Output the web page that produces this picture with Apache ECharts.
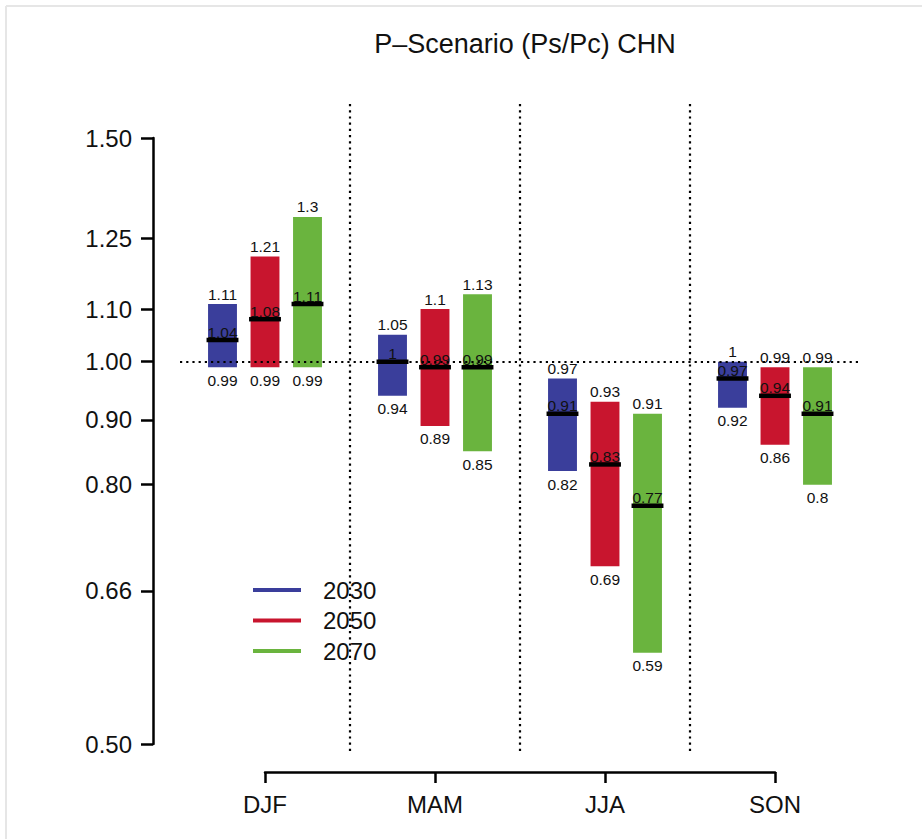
<!DOCTYPE html>
<html>
<head>
<meta charset="utf-8">
<script src="https://cdn.jsdelivr.net/npm/echarts@6/dist/echarts.min.js"></script>
<style>
html,body{margin:0;padding:0;background:#fff;}
#chart{width:922px;height:839px;}
</style>
</head>
<body>
<div id="chart"></div>
<script>
const titleText = 'P\u2013Scenario (Ps/Pc) CHN';
const categories = ['DJF', 'MAM', 'JJA', 'SON'];
const years = ['2030', '2050', '2070'];
const low2030  = [0.99, 0.94, 0.82, 0.92];
const med2030  = [1.04, 1,    0.91, 0.97];
const high2030 = [1.11, 1.05, 0.97, 1];
const low2050  = [0.99, 0.89, 0.69, 0.86];
const med2050  = [1.08, 0.99, 0.83, 0.94];
const high2050 = [1.21, 1.1,  0.93, 0.99];
const low2070  = [0.99, 0.85, 0.59, 0.8];
const med2070  = [1.11, 0.99, 0.77, 0.91];
const high2070 = [1.3,  1.13, 0.91, 0.99];
const yTicks = [0.5, 0.66, 0.8, 0.9, 1, 1.1, 1.25, 1.5];
const refValue = 1;

const yearColors = ['#3a3e9b', '#c8152e', '#6ab43e'];
const lows = [low2030, low2050, low2070];
const meds = [med2030, med2050, med2070];
const highs = [high2030, high2050, high2070];

const FONT = 'Liberation Sans, Arial, Helvetica, sans-serif';
const INK = '#111';
const L = Math.log;

function mkText(str, x, y) {
  return {
    type: 'text', z2: 20,
    style: {
      text: str, x: x, y: y,
      fontSize: 15.5, fontFamily: FONT, fill: INK,
      align: 'center', verticalAlign: 'middle',
      textAlign: 'center', textVerticalAlign: 'middle'
    }
  };
}

function makeYearSeries(j) {
  const data = categories.map((c, i) => [i, L(lows[j][i]), L(meds[j][i]), L(highs[j][i])]);
  const s = {
    name: years[j],
    type: 'custom',
    xAxisIndex: 0, yAxisIndex: 0,
    clip: false,
    itemStyle: { color: yearColors[j] },
    encode: { x: 0, y: [1, 2, 3] },
    data: data,
    renderItem: function (params, api) {
      const i = params.dataIndex;
      const cat = api.value(0);
      const band = api.size([1, 0])[0];
      const cx = api.coord([cat, 0])[0] + (j - 1) * 0.25 * band;
      const w = 0.17 * band;
      const yLo = api.coord([cat, api.value(1)])[1];
      const yMed = api.coord([cat, api.value(2)])[1];
      const yHi = api.coord([cat, api.value(3)])[1];
      return {
        type: 'group',
        children: [
          { type: 'rect', z2: 10, shape: { x: cx - w / 2, y: yHi, width: w, height: yLo - yHi }, style: { fill: yearColors[j] } },
          mkText(String(highs[j][i]), cx, yHi - 10),
          mkText(String(lows[j][i]), cx, yLo + 13),
          mkText(String(meds[j][i]), cx, yMed - 8),
          { type: 'line', z2: 30, shape: { x1: cx - w / 2 - 1.5, y1: yMed, x2: cx + w / 2 + 1.5, y2: yMed }, style: { stroke: '#000', lineWidth: 4.5 } }
        ]
      };
    }
  };
  if (j === 0) {
    s.markLine = {
      silent: true,
      symbol: ['none', 'none'],
      label: { show: false },
      lineStyle: { color: '#000', width: 2.2, type: [2.2, 4] },
      data: [{ yAxis: L(refValue) }]
    };
  }
  return s;
}

const separatorSeries = {
  name: 'sep',
  type: 'custom',
  xAxisIndex: 0, yAxisIndex: 0,
  clip: false,
  silent: true,
  encode: { x: 0, y: 1 },
  data: categories.slice(1).map((c, i) => [i, 0]),
  renderItem: function (params, api) {
    const band = api.size([1, 0])[0];
    const x = api.coord([api.value(0), 0])[0] + band / 2;
    const cs = params.coordSys;
    return {
      type: 'line',
      shape: { x1: x, y1: cs.y - 34, x2: x, y2: cs.y + cs.height + 11 },
      style: { stroke: '#000', lineWidth: 2.2, lineDash: [2.2, 4] }
    };
  }
};

const chart = echarts.init(document.getElementById('chart'), null, { renderer: 'svg' });
chart.setOption({
  animation: false,
  backgroundColor: '#fff',
  title: {
    text: titleText,
    left: 520, top: 25,
    textAlign: 'center',
    textStyle: { fontFamily: FONT, fontSize: 27, fontWeight: 'normal', color: INK }
  },
  legend: {
    data: years,
    orient: 'vertical',
    left: 253, top: 578,
    padding: 0,
    itemGap: 6.5,
    icon: 'rect',
    itemWidth: 48, itemHeight: 4,
    selectedMode: false,
    textStyle: { fontFamily: FONT, fontSize: 24, color: INK, padding: [0, 0, 0, 17] }
  },
  graphic: [
    { type: 'line', shape: { x1: 6, y1: 6, x2: 922, y2: 6 }, style: { stroke: '#e6e6e6', lineWidth: 2 } },
    { type: 'line', shape: { x1: 6, y1: 6, x2: 6, y2: 839 }, style: { stroke: '#e6e6e6', lineWidth: 2 } }
  ],
  grid: [
    { left: 180, right: 62, top: 138, bottom: 95 },
    { left: 265, right: 147, top: 771, height: 1 }
  ],
  xAxis: [
    {
      gridIndex: 0, type: 'category', data: categories, boundaryGap: true,
      axisLine: { show: false }, axisTick: { show: false }, axisLabel: { show: false }, splitLine: { show: false }
    },
    {
      gridIndex: 1, type: 'category', data: categories, boundaryGap: false, position: 'bottom',
      axisLine: { show: true, lineStyle: { color: '#000', width: 2.5 } },
      axisTick: { show: true, length: 11, lineStyle: { color: '#000', width: 2.5 } },
      axisLabel: { show: true, fontFamily: FONT, fontSize: 24, color: INK, margin: 20 },
      splitLine: { show: false }
    }
  ],
  yAxis: [
    {
      gridIndex: 0, type: 'value',
      min: L(yTicks[0]), max: L(yTicks[yTicks.length - 1]),
      offset: 27,
      axisLine: { show: true, lineStyle: { color: '#000', width: 2.5 } },
      axisTick: { show: true, length: 12, customValues: yTicks.map(L), lineStyle: { color: '#000', width: 2.5 } },
      axisLabel: {
        show: true, customValues: yTicks.map(L), margin: 21,
        fontFamily: FONT, fontSize: 24, color: INK,
        formatter: v => Math.exp(v).toFixed(2)
      },
      splitLine: { show: false }
    },
    { gridIndex: 1, type: 'value', show: false }
  ],
  series: [separatorSeries, makeYearSeries(0), makeYearSeries(1), makeYearSeries(2)]
});
</script>
</body>
</html>
